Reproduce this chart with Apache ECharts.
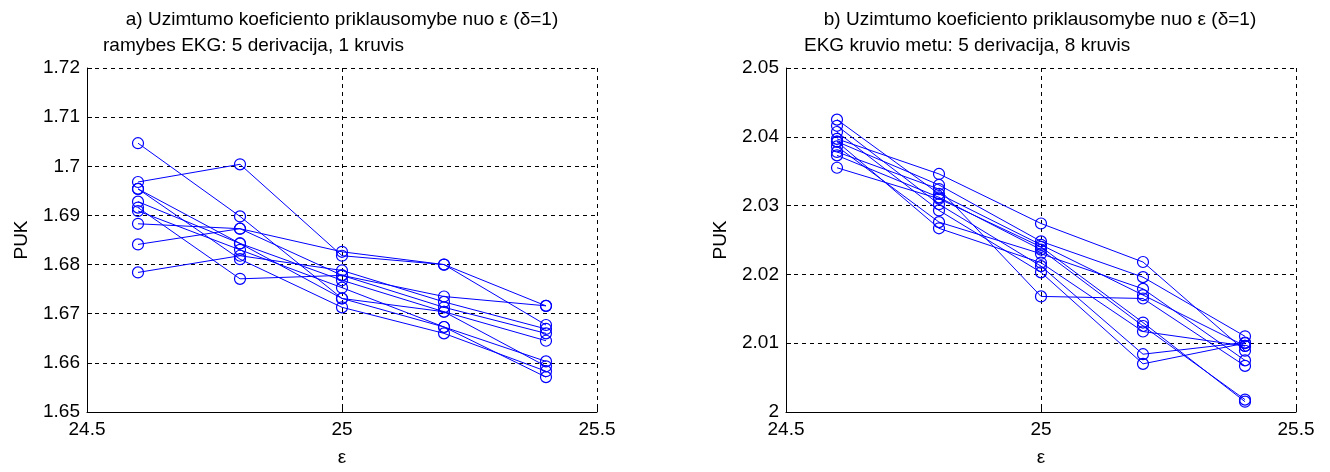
<!DOCTYPE html>
<html>
<head>
<meta charset="utf-8">
<script src="https://cdn.jsdelivr.net/npm/echarts@6/dist/echarts.min.js"></script>
<style>
  html, body { margin: 0; padding: 0; background: #ffffff; }
  #chart { width: 1330px; height: 472px; }
</style>
</head>
<body>
<div id="chart"></div>
<script>
// ε values at which the occupancy coefficient was evaluated
const epsilon = [24.6, 24.8, 25.0, 25.2, 25.4];

// a) resting ECG: 5 leads, 1 load — one row per curve
const restingCurves = [
  [1.7047, 1.6898, 1.6731, 1.6704, 1.6645],
  [1.6968, 1.7004, 1.6818, 1.6800, 1.6677],
  [1.6784, 1.6818, 1.6788, 1.6724, 1.6669],
  [1.6841, 1.6873, 1.6826, 1.6800, 1.6716],
  [1.6883, 1.6873, 1.6778, 1.6735, 1.6716],
  [1.6916, 1.6771, 1.6778, 1.6713, 1.6660],
  [1.6909, 1.6830, 1.6753, 1.6673, 1.6603],
  [1.6928, 1.6843, 1.6768, 1.6704, 1.6593],
  [1.6954, 1.6811, 1.6713, 1.6660, 1.6583],
  [1.6954, 1.6843, 1.6731, 1.6673, 1.6571]
];

// b) ECG during load: 5 leads, 8 loads
const loadCurves = [
  [2.0425, 2.0317, 2.0243, 2.0170, 2.0096],
  [2.0416, 2.0302, 2.0212, 2.0084, 2.0101],
  [2.0407, 2.0293, 2.0203, 2.0070, 2.0100],
  [2.0397, 2.0346, 2.0274, 2.0218, 2.0089],
  [2.0393, 2.0330, 2.0248, 2.0196, 2.0110],
  [2.0386, 2.0276, 2.0230, 2.0179, 2.0075],
  [2.0378, 2.0324, 2.0168, 2.0165, 2.0067],
  [2.0373, 2.0312, 2.0236, 2.0125, 2.0018],
  [2.0355, 2.0310, 2.0240, 2.0130, 2.0015],
  [2.0393, 2.0267, 2.0217, 2.0117, 2.0096]
];

// axis ranges
const xRange = [24.5, 25.5];
const xStep = 0.5;
const yRangeA = [1.65, 1.72];
const yRangeB = [2.00, 2.05];
const yStep = 0.01;

const titleLine1A = 'a) Uzimtumo koeficiento priklausomybe nuo ε (δ=1)';
const titleLine2A = 'ramybes EKG: 5 derivacija, 1 kruvis';
const titleLine1B = 'b) Uzimtumo koeficiento priklausomybe nuo ε (δ=1)';
const titleLine2B = 'EKG kruvio metu: 5 derivacija, 8 kruvis';

const FONT = "'Liberation Sans', Arial, sans-serif";
const FS = 19;
const BLUE = '#0000ff';

const grid = (left) => ({ left: left, top: 68, width: 510, height: 351 });

const textStyle = { fontFamily: FONT, fontSize: FS, color: '#000', fontWeight: 'normal' };

const splitLine = { show: true, lineStyle: { color: '#000', type: [4, 4], width: 1 } };

function xAxis(gridIndex) {
  return {
    type: 'value', gridIndex: gridIndex,
    min: xRange[0], max: xRange[1], interval: xStep,
    name: 'ε', nameLocation: 'middle', nameGap: 36,
    nameTextStyle: textStyle,
    axisLine: { show: true, onZero: false, lineStyle: { color: '#000', width: 1 } },
    axisTick: { show: true, inside: true, length: 5, lineStyle: { color: '#000' } },
    axisLabel: Object.assign({ margin: 8 }, textStyle),
    splitLine: splitLine
  };
}

function yAxis(gridIndex, range) {
  return {
    type: 'value', gridIndex: gridIndex,
    min: range[0], max: range[1], interval: yStep,
    name: 'PUK', nameLocation: 'middle', nameGap: 56, nameRotate: 90,
    nameTextStyle: textStyle,
    axisLine: { show: true, onZero: false, lineStyle: { color: '#000', width: 1 } },
    axisTick: { show: true, inside: true, length: 5, lineStyle: { color: '#000' } },
    axisLabel: Object.assign({ margin: 7, formatter: (v) => String(+v.toFixed(4)) }, textStyle),
    splitLine: splitLine
  };
}

// hollow circle markers with the connecting lines visible through them
function curves(rows, axisIndex) {
  return rows.map((row) => ({
    type: 'line',
    xAxisIndex: axisIndex, yAxisIndex: axisIndex,
    data: epsilon.map((x, i) => [x, row[i]]),
    symbol: 'circle', symbolSize: 11,
    showAllSymbol: true,
    lineStyle: { color: BLUE, width: 1 },
    itemStyle: { color: 'rgba(0,0,0,0)', borderColor: BLUE, borderWidth: 1.2 },
    emphasis: { disabled: true },
    silent: true
  }));
}

const chart = echarts.init(document.getElementById('chart'), null, { renderer: 'canvas' });
chart.setOption({
  backgroundColor: '#ffffff',
  animation: false,
  title: [
    { text: titleLine1A, left: 342, top: 10, textAlign: 'center', textStyle: textStyle, padding: 0 },
    { text: titleLine2A, left: 103, top: 36, textStyle: textStyle, padding: 0 },
    { text: titleLine1B, left: 1040, top: 10, textAlign: 'center', textStyle: textStyle, padding: 0 },
    { text: titleLine2B, left: 804, top: 36, textStyle: textStyle, padding: 0 }
  ],
  grid: [grid(87), grid(786)],
  xAxis: [xAxis(0), xAxis(1)],
  yAxis: [yAxis(0, yRangeA), yAxis(1, yRangeB)],
  series: curves(restingCurves, 0).concat(curves(loadCurves, 1))
});
</script>
</body>
</html>
